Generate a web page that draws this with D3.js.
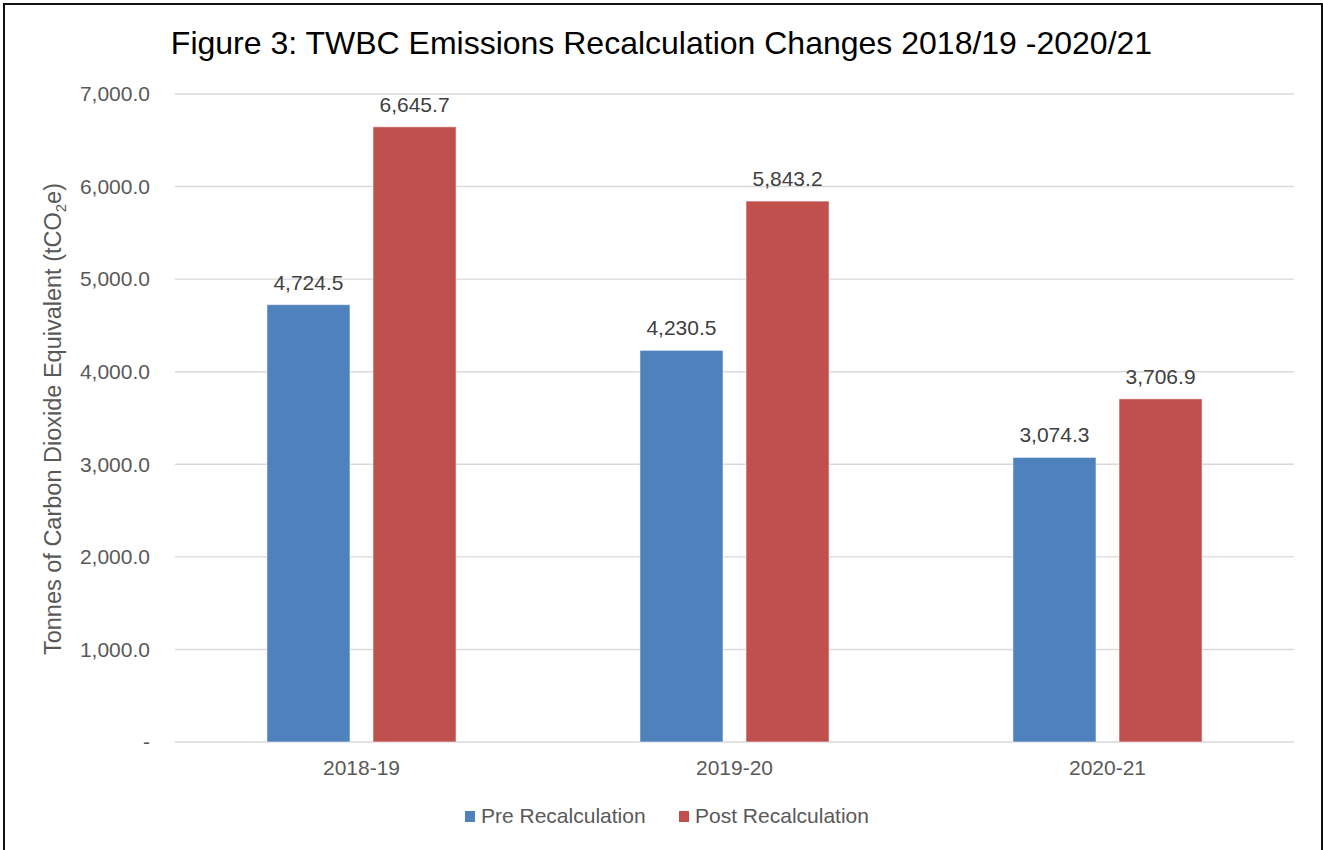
<!DOCTYPE html>
<html>
<head>
<meta charset="utf-8">
<script src="https://cdn.jsdelivr.net/npm/d3@7/dist/d3.min.js"></script>
<style>
  html, body { margin: 0; padding: 0; background: #fff; }
  svg { display: block; font-family: "Liberation Sans", Arial, sans-serif; }
</style>
</head>
<body>
<svg id="chart" width="1323" height="850"></svg>
<script>
// Emissions before and after recalculation, tonnes CO2e
const categories = ["2018-19", "2019-20", "2020-21"];
const seriesNames = ["Pre Recalculation", "Post Recalculation"];
const preValues = [4724.5, 4230.5, 3074.3];
const postValues = [6645.7, 5843.2, 3706.9];
const yTicks = [0, 1000, 2000, 3000, 4000, 5000, 6000, 7000];
const colors = ["#4F81BD", "#C0504D"];

const svg = d3.select("#chart");
const W = 1323, H = 850;
const plot = { left: 175, right: 1294, top: 94, bottom: 742 };

// Outer frame
svg.append("rect")
  .attr("x", 4).attr("y", 4)
  .attr("width", 1318).attr("height", 860)
  .attr("fill", "none").attr("stroke", "#111").attr("stroke-width", 2);

// Title
svg.append("text")
  .attr("x", W / 2).attr("y", 54)
  .attr("text-anchor", "middle")
  .attr("font-size", 32)
  .attr("fill", "#000")
  .text("Figure 3: TWBC Emissions Recalculation Changes 2018/19 -2020/21");

const y = d3.scaleLinear().domain([0, 7000]).range([plot.bottom, plot.top]);
const x0 = d3.scaleBand().domain(categories)
  .range([plot.left, plot.right])
  .paddingInner(0.493).paddingOuter(0.2465);
const x1 = d3.scaleBand().domain(seriesNames)
  .range([0, x0.bandwidth()])
  .paddingInner(0.217).paddingOuter(0);

// Gridlines
svg.append("g")
  .selectAll("line")
  .data(yTicks)
  .join("line")
  .attr("x1", plot.left).attr("x2", plot.right)
  .attr("y1", d => y(d)).attr("y2", d => y(d))
  .attr("stroke", "#d9d9d9").attr("stroke-width", 1.4);

// Y axis tick labels
const fmt = d3.format(",.1f");
const yAxis = d3.axisLeft(y).tickValues(yTicks)
  .tickSize(0).tickPadding(0)
  .tickFormat(d => d === 0 ? "-" : fmt(d));
const yg = svg.append("g").attr("transform", `translate(150,0)`).call(yAxis);
yg.select(".domain").remove();
yg.selectAll("text")
  .attr("font-size", 21).attr("fill", "#595959")
  .attr("font-family", "Liberation Sans, Arial, sans-serif");

// Y axis title with subscript
const yt = svg.append("text")
  .attr("transform", `translate(61,419) rotate(-90)`)
  .attr("text-anchor", "middle")
  .attr("font-size", 23.5)
  .attr("fill", "#595959");
yt.append("tspan").text("Tonnes of Carbon Dioxide Equivalent (tCO");
yt.append("tspan").attr("font-size", 15).attr("dy", 5).text("2");
yt.append("tspan").attr("dy", -5).text("e)");

// X axis category labels
const xAxis = d3.axisBottom(x0).tickSize(0).tickPadding(0);
const xg = svg.append("g").attr("transform", `translate(0,${plot.bottom})`).call(xAxis);
xg.select(".domain").remove();
xg.selectAll("text")
  .attr("font-size", 21).attr("fill", "#595959")
  .attr("dy", null).attr("y", 33)
  .attr("font-family", "Liberation Sans, Arial, sans-serif");

// Bars
const rows = categories.map((c, i) => ({
  cat: c,
  vals: [
    { s: seriesNames[0], v: preValues[i], c: colors[0] },
    { s: seriesNames[1], v: postValues[i], c: colors[1] }
  ]
}));

const groups = svg.append("g").selectAll("g")
  .data(rows)
  .join("g")
  .attr("transform", d => `translate(${x0(d.cat)},0)`);

groups.selectAll("rect")
  .data(d => d.vals)
  .join("rect")
  .attr("x", d => x1(d.s))
  .attr("width", x1.bandwidth())
  .attr("y", d => y(d.v))
  .attr("height", d => y(0) - y(d.v))
  .attr("fill", d => d.c)
  .attr("stroke", "#ffffff").attr("stroke-opacity", 0.55).attr("stroke-width", 1);

groups.selectAll("text")
  .data(d => d.vals)
  .join("text")
  .attr("x", d => x1(d.s) + x1.bandwidth() / 2)
  .attr("y", d => y(d.v) - 15)
  .attr("text-anchor", "middle")
  .attr("font-size", 21)
  .attr("fill", "#404040")
  .text(d => fmt(d.v));

// Legend
const legendItems = [
  { name: seriesNames[0], color: colors[0], x: 465 },
  { name: seriesNames[1], color: colors[1], x: 679 }
];
const lg = svg.append("g").selectAll("g").data(legendItems).join("g")
  .attr("transform", d => `translate(${d.x},811)`);
lg.append("rect").attr("width", 10).attr("height", 11).attr("fill", d => d.color);
lg.append("text").attr("x", 16).attr("y", 12)
  .attr("font-size", 21).attr("fill", "#595959")
  .text(d => d.name);
</script>
</body>
</html>
